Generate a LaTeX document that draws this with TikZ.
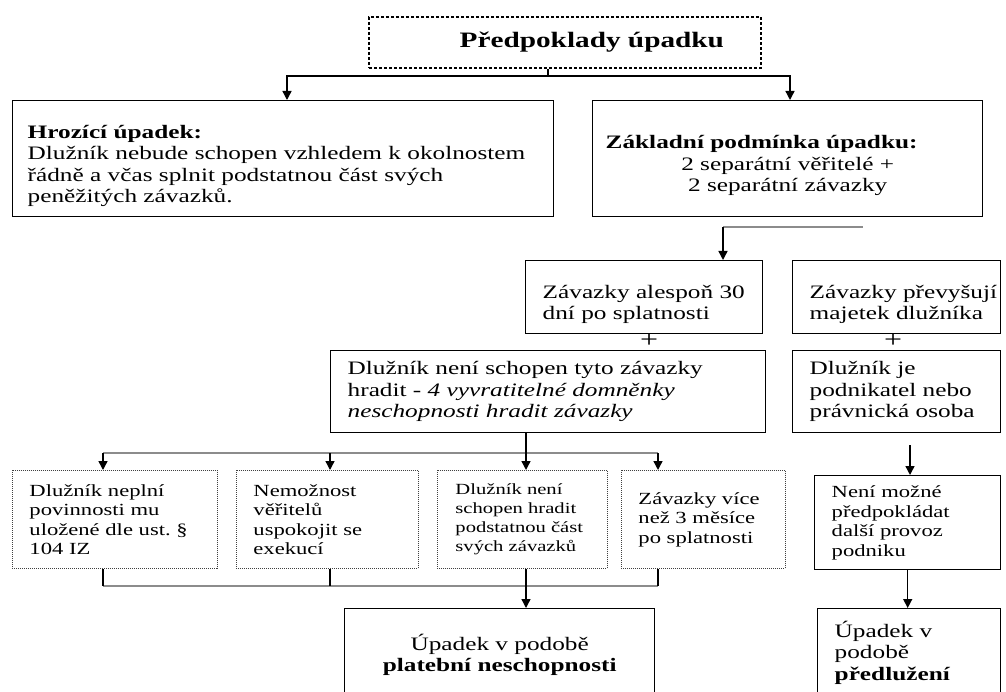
\documentclass[tikz,border=0pt]{standalone}
\usepackage{fontspec}
\setmainfont{Liberation Serif}[FakeStretch=1.33]
\usetikzlibrary{arrows.meta}
\newcommand{\fbig}{\fontsize{22}{25}\selectfont}
\newcommand{\fnorm}{\fontsize{19}{21.5}\selectfont}
\newcommand{\fsmall}{\fontsize{17}{19.5}\selectfont}
\newcommand{\ftiny}{\fontsize{15.5}{19}\selectfont}
\newcommand{\topgap}{\rule{0pt}{1.45em}}
\tikzset{
    plainbox/.style={draw, line width=1.4pt, inner xsep=17pt, inner ysep=0pt, align=left, anchor=north west, font=\fnorm},
    dotbox/.style={plainbox, draw=black!75, line width=0.9pt, dash pattern=on 1pt off 1pt, font=\fsmall},
    arr/.style={-{Triangle[length=9pt,width=9pt]}, line width=1.4pt},
    grayline/.style={draw=black!45, line width=1.6pt},
}
\begin{document}
\begin{tikzpicture}[x=1pt,y=-1pt]
    \useasboundingbox (0,0) rectangle (1006,692);
    \clip (0,0) rectangle (1006,692);
    \node[plainbox, line width=2pt, dash pattern=on 3pt off 2pt, align=right, text width=318pt, inner xsep=37pt, minimum height=51pt, font=\fbig\bfseries] (title) at (368,16) {Předpoklady úpadku};
    \node[plainbox, text width=511pt, inner xsep=15pt, minimum height=116pt] (hroz) at (12,100) {\topgap\textbf{Hrozící úpadek:}\\ Dlužník nebude schopen vzhledem k okolnostem\\ řádně a včas splnit podstatnou část svých\\ peněžitých závazků.};
    \node[plainbox, align=center, text width=364pt, inner xsep=13pt, minimum height=116pt] (zakl) at (592,100) {\makebox[\hsize][l]{\topgap\textbf{Základní podmínka úpadku:}}\\ 2 separátní věřitelé +\\ 2 separátní závazky};
    \node[plainbox, text width=203pt, minimum height=73pt] (zav30) at (525,260) {\topgap Závazky alespoň 30\\ dní po splatnosti};
    \node[plainbox, text width=174pt, minimum height=73pt] (prev) at (792,260) {\topgap\mbox{Závazky převyšují}\\ majetek dlužníka};
    \node[font=\fontsize{24}{24}\selectfont] (plusa) at (649,341) {+};
    \node[font=\fontsize{24}{24}\selectfont] (plusb) at (893,341) {+};
    \node[plainbox, text width=401pt, minimum height=82pt] (neschop) at (330,350) {Dlužník není schopen tyto závazky\\ hradit - \textit{4 vyvratitelné domněnky}\\ \textit{neschopnosti hradit závazky}};
    \node[plainbox, text width=174pt, minimum height=82pt] (podnik) at (792,350) {Dlužník je\\ podnikatel nebo\\ právnická osoba};
    \node[dotbox, text width=171pt, minimum height=98pt] (d1) at (12,470) {Dlužník neplní\\ povinnosti mu\\ uložené dle ust.\ §\\ 104 IZ};
    \node[dotbox, text width=148pt, minimum height=98pt] (d2) at (236,470) {Nemožnost\\ věřitelů\\ uspokojit se\\ exekucí};
    \node[dotbox, text width=134pt, inner xsep=18pt, minimum height=98pt, font=\ftiny] (d3) at (437,470) {Dlužník není\\ schopen hradit\\ podstatnou část\\ svých závazků};
    \node[dotbox, text width=130pt, minimum height=98pt] (d4) at (621,470) {Závazky více\\ než 3 měsíce\\ po splatnosti};
    \node[plainbox, text width=152pt, minimum height=94pt, font=\fsmall] (nemoz) at (814,475) {Není možné\\ předpokládat\\ další provoz\\ podniku};
    \node[plainbox, align=center, text width=276pt, minimum height=92pt] (plat) at (344,608) {Úpadek v podobě\\ \textbf{platební neschopnosti}};
    \node[plainbox, text width=149pt, minimum height=88pt] (predl) at (817,608) {Úpadek v\\ podobě\\ \textbf{předlužení}};

    \coordinate (split) at (548,76);
    \coordinate (hl) at (287,76);
    \coordinate (hr) at (790,76);
    \draw[line width=1.4pt] (title.south -| split) -- (split);
    \draw[arr] (split) -| (hl |- hroz.north);
    \draw[arr] (split) -| (hr |- zakl.north);

    \coordinate (za) at (723,227);
    \coordinate (zb) at (863,227);
    \draw[grayline] (za) -- (zb);
    \draw[arr] (za) -- (za |- zav30.north);

    \coordinate (ua) at (103,453);
    \coordinate (ub) at (330,453);
    \coordinate (uc) at (526,453);
    \coordinate (ud) at (658,453);
    \coordinate (la) at (103,586);
    \coordinate (lb) at (330,586);
    \coordinate (lc) at (526,586);
    \coordinate (ld) at (658,586);
    \draw[grayline] (ua) -- (ud);
    \draw[grayline] (la) -- (ld);
    \foreach \n/\u/\l in {d1/ua/la, d2/ub/lb, d4/ud/ld}{
        \draw[arr] (\u) -- (\u |- \n.north);
        \draw[line width=1.4pt] (\n.south -| \l) -- (\l);
    }
    \draw[arr] (neschop.south -| uc) -- (uc |- d3.north);
    \draw[arr] (d3.south -| lc) -- (lc |- plat.north);

    \coordinate (nz) at (910,445);
    \draw[arr] (nz) -- (nz |- nemoz.north);
    \draw[arr] (nemoz.south) -- (nemoz.south |- predl.north);
\end{tikzpicture}
\end{document}
